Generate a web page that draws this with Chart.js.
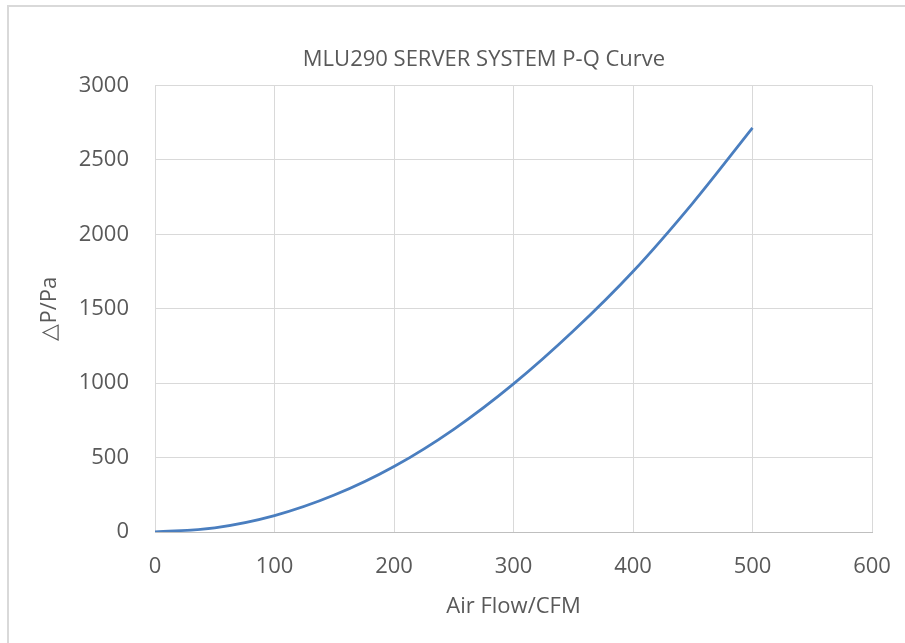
<!DOCTYPE html>
<html>
<head>
<meta charset="utf-8">
<script src="https://cdn.jsdelivr.net/npm/chart.js@4/dist/chart.umd.min.js"></script>
<style>
  html, body { margin: 0; padding: 0; background: #fff; overflow: hidden; }
  #frame {
    position: absolute; left: 7px; top: 5px; width: 920px; height: 660px;
    border-top: 2px solid #d9d9d9; border-left: 2px solid #d9d9d9;
  }
  #wrap { position: absolute; left: 9px; top: 7px; width: 930px; height: 636px; }
</style>
</head>
<body>
<div id="frame"></div>
<div id="wrap"><canvas id="chart"></canvas></div>
<script>
// 読み取った P-Q カーブの値
const airFlow = [0, 50, 100, 150, 200, 250, 300, 350, 400, 450, 500];
const pressure = [0, 28, 110, 248, 440, 690, 995, 1350, 1750, 2210, 2715];

const xTicks = [0, 100, 200, 300, 400, 500, 600];
const yTicks = [0, 500, 1000, 1500, 2000, 2500, 3000];

const chartTitle = 'MLU290 SERVER SYSTEM P-Q Curve';
const xTitle = 'Air Flow/CFM';
const yTitle = '△P/Pa';

const FONT = '"Open Sans", "Noto Sans", sans-serif';
const TEXT = '#595959';
const GRID = '#d9d9d9';

const points = airFlow.map((x, i) => ({ x, y: pressure[i] }));

new Chart(document.getElementById('chart'), {
  type: 'scatter',
  data: {
    datasets: [{
      data: points,
      showLine: true,
      borderColor: '#4a7ebf',
      borderWidth: 2.75,
      pointRadius: 0,
      cubicInterpolationMode: 'monotone',
      fill: false,
    }],
  },
  options: {
    responsive: true,
    maintainAspectRatio: false,
    animation: false,
    layout: { padding: { left: 20, right: 0, top: 0, bottom: 0 } },
    plugins: {
      legend: { display: false },
      tooltip: { enabled: false },
      title: {
        display: true,
        text: chartTitle,
        color: TEXT,
        font: { family: FONT, size: 22, weight: 'normal' },
        padding: { top: 40, bottom: 12 },
      },
    },
    scales: {
      x: {
        type: 'linear',
        min: 0,
        max: 600,
        afterBuildTicks: (axis) => { axis.ticks = xTicks.map(v => ({ value: v })); },
        afterFit: (axis) => { axis.height = 111; },
        grid: { color: GRID, lineWidth: 1, drawTicks: false },
        border: { display: true, color: '#bfbfbf' },
        ticks: {
          color: TEXT,
          font: { family: FONT, size: 22 },
          padding: 22,
          maxRotation: 0,
          callback: (v) => String(v),
        },
        title: {
          display: true,
          text: xTitle,
          color: TEXT,
          font: { family: FONT, size: 22 },
          padding: { top: 10, bottom: 23 },
        },
      },
      y: {
        type: 'linear',
        min: 0,
        max: 3000,
        afterBuildTicks: (axis) => { axis.ticks = yTicks.map(v => ({ value: v })); },
        afterFit: (axis) => { axis.width = 126; },
        grid: { color: GRID, lineWidth: 1, drawTicks: false },
        border: { display: false },
        ticks: {
          color: TEXT,
          font: { family: FONT, size: 22 },
          padding: 26,
          callback: (v) => String(v),
        },
        title: {
          display: true,
          text: yTitle,
          color: TEXT,
          font: { family: FONT, size: 22 },
          padding: { top: 8, bottom: 4 },
        },
      },
      // 右側の余白用 (非表示)
      yPad: {
        position: 'right',
        display: true,
        grid: { display: false, drawTicks: false },
        border: { display: false },
        ticks: { display: false },
        afterFit: (axis) => { axis.width = 67; },
      },
    },
  },
});
</script>
</body>
</html>
